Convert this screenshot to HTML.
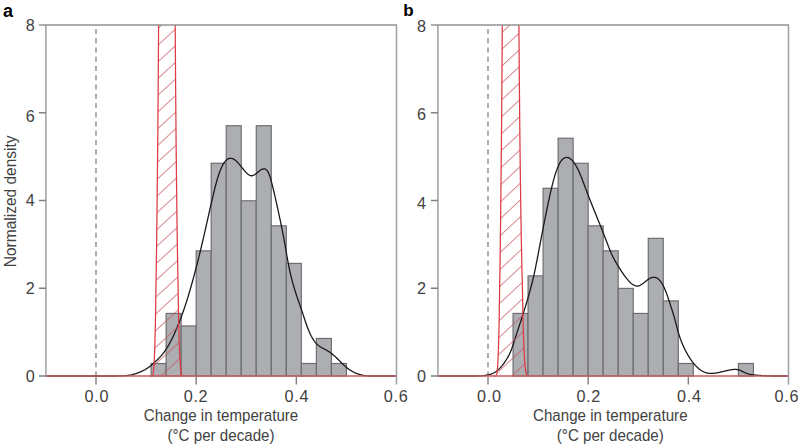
<!DOCTYPE html>
<html><head><meta charset="utf-8"><style>
html,body{margin:0;padding:0;background:#fff;}
body{width:800px;height:447px;overflow:hidden;}
svg{display:block;}
text{font-family:"Liberation Sans",sans-serif;}
.tl{font-size:16.2px;fill:#424242;}
.al{font-size:17px;fill:#424242;}
.xt{letter-spacing:0.7px;}
.pl{font-size:18px;font-weight:bold;fill:#000;}
</style></head><body>
<svg width="800" height="447" viewBox="0 0 800 447">
<defs><pattern id="hatcha" patternUnits="userSpaceOnUse" width="20" height="16.67" patternTransform="skewY(-42.614)"><line x1="-1" y1="7.05" x2="21" y2="7.05" stroke="#c8525a" stroke-width="0.95"/></pattern><pattern id="hatchb" patternUnits="userSpaceOnUse" width="20" height="16.8" patternTransform="skewY(-43.076)"><line x1="-1" y1="14.58" x2="21" y2="14.58" stroke="#c8525a" stroke-width="0.95"/></pattern></defs>
<clipPath id="clipa"><rect x="45.919999999999995" y="25.0" width="350.56" height="354.0"/></clipPath>
<line x1="96.00" y1="29.0" x2="96.00" y2="376.0" stroke="#8e8e8e" stroke-width="1.45" stroke-dasharray="5 4.26"/>
<g fill="#adaeb2" stroke="#6b6c70" stroke-width="1.15"><rect x="151.09" y="363.49" width="15.02" height="12.52"/>
<rect x="166.11" y="313.43" width="15.02" height="62.58"/>
<rect x="181.14" y="325.94" width="15.02" height="50.06"/>
<rect x="196.16" y="250.85" width="15.02" height="125.15"/>
<rect x="211.18" y="163.25" width="15.02" height="212.75"/>
<rect x="226.21" y="125.70" width="15.02" height="250.30"/>
<rect x="241.23" y="200.79" width="15.02" height="175.21"/>
<rect x="256.26" y="125.70" width="15.02" height="250.30"/>
<rect x="271.28" y="225.82" width="15.02" height="150.18"/>
<rect x="286.30" y="263.37" width="15.02" height="112.64"/>
<rect x="301.33" y="363.49" width="15.02" height="12.52"/>
<rect x="316.35" y="338.45" width="15.02" height="37.55"/>
<rect x="331.38" y="363.49" width="15.02" height="12.52"/></g>
<path d="M45.92,376.00 L46.55,376.00 L47.17,376.00 L47.80,376.00 L48.42,376.00 L49.05,376.00 L49.68,376.00 L50.30,376.00 L50.93,376.00 L51.55,376.00 L52.18,376.00 L52.81,376.00 L53.43,376.00 L54.06,376.00 L54.68,376.00 L55.31,376.00 L55.94,376.00 L56.56,376.00 L57.19,376.00 L57.81,376.00 L58.44,376.00 L59.07,376.00 L59.69,376.00 L60.32,376.00 L60.94,376.00 L61.57,376.00 L62.20,376.00 L62.82,376.00 L63.45,376.00 L64.07,376.00 L64.70,376.00 L65.33,376.00 L65.95,376.00 L66.58,376.00 L67.20,376.00 L67.83,376.00 L68.46,376.00 L69.08,376.00 L69.71,376.00 L70.33,376.00 L70.96,376.00 L71.59,376.00 L72.21,376.00 L72.84,376.00 L73.46,376.00 L74.09,376.00 L74.72,376.00 L75.34,376.00 L75.97,376.00 L76.59,376.00 L77.22,376.00 L77.85,376.00 L78.47,376.00 L79.10,376.00 L79.72,376.00 L80.35,376.00 L80.98,376.00 L81.60,376.00 L82.23,376.00 L82.85,376.00 L83.48,376.00 L84.11,376.00 L84.73,376.00 L85.36,376.00 L85.98,376.00 L86.61,376.00 L87.24,376.00 L87.86,376.00 L88.49,376.00 L89.11,376.00 L89.74,376.00 L90.37,376.00 L90.99,376.00 L91.62,376.00 L92.24,376.00 L92.87,376.00 L93.50,376.00 L94.12,376.00 L94.75,376.00 L95.37,376.00 L96.00,376.00 L96.63,376.00 L97.25,376.00 L97.88,376.00 L98.50,376.00 L99.13,376.00 L99.76,376.00 L100.38,376.00 L101.01,376.00 L101.63,376.00 L102.26,376.00 L102.89,376.00 L103.51,376.00 L104.14,376.00 L104.76,376.00 L105.39,376.00 L106.02,376.00 L106.64,376.00 L107.27,376.00 L107.89,376.00 L108.52,376.00 L109.15,376.00 L109.77,376.00 L110.40,376.00 L111.02,376.00 L111.65,376.00 L112.28,376.00 L112.90,376.00 L113.53,375.99 L114.15,375.99 L114.78,375.99 L115.41,375.99 L116.03,375.98 L116.66,375.98 L117.28,375.97 L117.91,375.97 L118.54,375.96 L119.16,375.95 L119.79,375.94 L120.41,375.93 L121.04,375.92 L121.67,375.90 L122.29,375.88 L122.92,375.86 L123.54,375.83 L124.17,375.79 L124.80,375.75 L125.42,375.70 L126.05,375.65 L126.67,375.58 L127.30,375.51 L127.93,375.43 L128.55,375.35 L129.18,375.25 L129.80,375.14 L130.43,375.03 L131.06,374.91 L131.68,374.77 L132.31,374.63 L132.93,374.48 L133.56,374.32 L134.19,374.15 L134.81,373.97 L135.44,373.78 L136.06,373.58 L136.69,373.37 L137.32,373.15 L137.94,372.92 L138.57,372.68 L139.19,372.43 L139.82,372.17 L140.45,371.91 L141.07,371.63 L141.70,371.34 L142.32,371.04 L142.95,370.73 L143.58,370.40 L144.20,370.07 L144.83,369.72 L145.45,369.35 L146.08,368.98 L146.71,368.58 L147.33,368.18 L147.96,367.76 L148.58,367.32 L149.21,366.87 L149.84,366.40 L150.46,365.92 L151.09,365.42 L151.71,364.90 L152.34,364.37 L152.97,363.83 L153.59,363.28 L154.22,362.71 L154.84,362.14 L155.47,361.57 L156.10,360.99 L156.72,360.40 L157.35,359.80 L157.97,359.19 L158.60,358.56 L159.23,357.92 L159.85,357.25 L160.48,356.57 L161.10,355.86 L161.73,355.13 L162.36,354.37 L162.98,353.58 L163.61,352.76 L164.23,351.92 L164.86,351.04 L165.49,350.14 L166.11,349.20 L166.74,348.23 L167.36,347.23 L167.99,346.20 L168.62,345.14 L169.24,344.04 L169.87,342.91 L170.49,341.74 L171.12,340.55 L171.75,339.32 L172.37,338.05 L173.00,336.75 L173.62,335.43 L174.25,334.07 L174.88,332.68 L175.50,331.26 L176.13,329.81 L176.75,328.34 L177.38,326.84 L178.01,325.31 L178.63,323.76 L179.26,322.18 L179.88,320.57 L180.51,318.94 L181.14,317.27 L181.76,315.57 L182.39,313.84 L183.01,312.08 L183.64,310.28 L184.27,308.46 L184.89,306.60 L185.52,304.71 L186.14,302.79 L186.77,300.83 L187.40,298.84 L188.02,296.82 L188.65,294.77 L189.27,292.68 L189.90,290.56 L190.53,288.40 L191.15,286.22 L191.78,284.00 L192.40,281.76 L193.03,279.48 L193.66,277.18 L194.28,274.84 L194.91,272.49 L195.53,270.10 L196.16,267.69 L196.79,265.26 L197.41,262.80 L198.04,260.32 L198.66,257.82 L199.29,255.29 L199.92,252.74 L200.54,250.16 L201.17,247.55 L201.79,244.92 L202.42,242.26 L203.05,239.59 L203.67,236.89 L204.30,234.17 L204.92,231.44 L205.55,228.69 L206.18,225.92 L206.80,223.15 L207.43,220.36 L208.05,217.58 L208.68,214.79 L209.31,212.01 L209.93,209.23 L210.56,206.47 L211.18,203.72 L211.81,201.00 L212.44,198.30 L213.06,195.63 L213.69,193.01 L214.31,190.45 L214.94,187.94 L215.57,185.51 L216.19,183.17 L216.82,180.91 L217.44,178.76 L218.07,176.71 L218.70,174.77 L219.32,172.95 L219.95,171.23 L220.57,169.63 L221.20,168.14 L221.83,166.76 L222.45,165.50 L223.08,164.34 L223.70,163.30 L224.33,162.37 L224.96,161.55 L225.58,160.82 L226.21,160.20 L226.83,159.67 L227.46,159.23 L228.09,158.88 L228.71,158.62 L229.34,158.43 L229.96,158.32 L230.59,158.29 L231.22,158.33 L231.84,158.44 L232.47,158.61 L233.09,158.85 L233.72,159.16 L234.35,159.52 L234.97,159.94 L235.60,160.42 L236.22,160.96 L236.85,161.55 L237.48,162.18 L238.10,162.85 L238.73,163.56 L239.35,164.30 L239.98,165.06 L240.61,165.84 L241.23,166.63 L241.86,167.43 L242.48,168.22 L243.11,169.02 L243.74,169.79 L244.36,170.56 L244.99,171.29 L245.61,171.99 L246.24,172.66 L246.87,173.28 L247.49,173.84 L248.12,174.35 L248.74,174.79 L249.37,175.15 L250.00,175.43 L250.62,175.63 L251.25,175.73 L251.87,175.73 L252.50,175.63 L253.13,175.44 L253.75,175.16 L254.38,174.81 L255.00,174.41 L255.63,173.96 L256.26,173.47 L256.88,172.96 L257.51,172.43 L258.13,171.91 L258.76,171.39 L259.39,170.89 L260.01,170.42 L260.64,169.99 L261.26,169.61 L261.89,169.30 L262.52,169.05 L263.14,168.88 L263.77,168.81 L264.39,168.83 L265.02,168.98 L265.65,169.26 L266.27,169.70 L266.90,170.32 L267.52,171.14 L268.15,172.19 L268.78,173.47 L269.40,175.02 L270.03,176.84 L270.65,178.91 L271.28,181.18 L271.91,183.58 L272.53,186.07 L273.16,188.62 L273.78,191.23 L274.41,193.88 L275.04,196.58 L275.66,199.33 L276.29,202.12 L276.91,204.95 L277.54,207.82 L278.17,210.71 L278.79,213.62 L279.42,216.54 L280.04,219.49 L280.67,222.47 L281.30,225.50 L281.92,228.58 L282.55,231.74 L283.17,234.98 L283.80,238.30 L284.43,241.70 L285.05,245.18 L285.68,248.74 L286.30,252.37 L286.93,256.01 L287.56,259.57 L288.18,262.98 L288.81,266.20 L289.43,269.25 L290.06,272.14 L290.69,274.88 L291.31,277.48 L291.94,279.95 L292.56,282.31 L293.19,284.56 L293.82,286.73 L294.44,288.81 L295.07,290.83 L295.69,292.79 L296.32,294.70 L296.95,296.58 L297.57,298.42 L298.20,300.24 L298.82,302.05 L299.45,303.86 L300.08,305.66 L300.70,307.48 L301.33,309.30 L301.95,311.14 L302.58,313.00 L303.21,314.88 L303.83,316.78 L304.46,318.69 L305.08,320.58 L305.71,322.45 L306.34,324.27 L306.96,326.03 L307.59,327.71 L308.21,329.31 L308.84,330.84 L309.47,332.29 L310.09,333.66 L310.72,334.96 L311.34,336.19 L311.97,337.35 L312.60,338.43 L313.22,339.46 L313.85,340.41 L314.47,341.30 L315.10,342.13 L315.73,342.89 L316.35,343.60 L316.98,344.24 L317.60,344.83 L318.23,345.36 L318.86,345.85 L319.48,346.30 L320.11,346.71 L320.73,347.10 L321.36,347.46 L321.99,347.80 L322.61,348.14 L323.24,348.47 L323.86,348.80 L324.49,349.13 L325.12,349.46 L325.74,349.80 L326.37,350.15 L326.99,350.51 L327.62,350.87 L328.25,351.25 L328.87,351.65 L329.50,352.06 L330.12,352.48 L330.75,352.93 L331.38,353.39 L332.00,353.87 L332.63,354.37 L333.25,354.89 L333.88,355.42 L334.51,355.97 L335.13,356.53 L335.76,357.11 L336.38,357.70 L337.01,358.30 L337.64,358.91 L338.26,359.53 L338.89,360.16 L339.51,360.80 L340.14,361.43 L340.77,362.07 L341.39,362.70 L342.02,363.33 L342.64,363.94 L343.27,364.55 L343.90,365.14 L344.52,365.72 L345.15,366.28 L345.77,366.83 L346.40,367.36 L347.03,367.87 L347.65,368.37 L348.28,368.84 L348.90,369.30 L349.53,369.73 L350.16,370.15 L350.78,370.55 L351.41,370.92 L352.03,371.28 L352.66,371.63 L353.29,371.95 L353.91,372.26 L354.54,372.55 L355.16,372.83 L355.79,373.10 L356.42,373.35 L357.04,373.59 L357.67,373.82 L358.29,374.03 L358.92,374.24 L359.55,374.43 L360.17,374.61 L360.80,374.78 L361.42,374.94 L362.05,375.09 L362.68,375.22 L363.30,375.34 L363.93,375.46 L364.55,375.56 L365.18,375.65 L365.81,375.72 L366.43,375.79 L367.06,375.84 L367.68,375.89 L368.31,375.92 L368.94,375.95 L369.56,375.98 L370.19,375.99 L370.81,376.00 L371.44,376.00 L372.07,376.00 L372.69,376.00 L373.32,376.00 L373.94,376.00 L374.57,376.00 L375.20,376.00 L375.82,376.00 L376.45,376.00 L377.07,376.00 L377.70,376.00 L378.33,376.00 L378.95,376.00 L379.58,376.00 L380.20,376.00 L380.83,376.00 L381.46,376.00 L382.08,375.99 L382.71,375.99 L383.33,375.99 L383.96,375.99 L384.59,375.99 L385.21,375.99 L385.84,375.99 L386.46,375.99 L387.09,375.99 L387.72,375.99 L388.34,375.99 L388.97,375.99 L389.59,375.99 L390.22,376.00 L390.85,376.00 L391.47,376.00 L392.10,376.00 L392.72,376.00 L393.35,376.00 L393.98,376.00 L394.60,376.00 L395.23,376.00 L395.85,376.00 L396.48,376.00" fill="none" stroke="#1a1a1a" stroke-width="1.3" clip-path="url(#clipa)"/>
<g clip-path="url(#clipa)"><path d="M149.80,376.00 L152.00,375.82 L152.03,375.81 L152.05,375.80 L152.08,375.79 L152.11,375.77 L152.13,375.75 L152.16,375.74 L152.19,375.72 L152.21,375.70 L152.24,375.68 L152.27,375.66 L152.29,375.63 L152.32,375.61 L152.35,375.58 L152.37,375.55 L152.40,375.52 L152.43,375.49 L152.45,375.45 L152.48,375.41 L152.51,375.37 L152.53,375.33 L152.56,375.28 L152.59,375.23 L152.61,375.18 L152.64,375.12 L152.67,375.06 L152.69,374.99 L152.72,374.92 L152.75,374.85 L152.77,374.77 L152.80,374.68 L152.84,374.59 L152.87,374.49 L152.90,374.38 L152.94,374.27 L152.97,374.15 L153.00,374.02 L153.04,373.88 L153.07,373.74 L153.10,373.58 L153.14,373.41 L153.17,373.23 L153.20,373.04 L153.24,372.83 L153.27,372.61 L153.30,372.38 L153.34,372.12 L153.37,371.85 L153.40,371.57 L153.44,371.26 L153.47,370.93 L153.50,370.57 L153.54,370.20 L153.57,369.79 L153.61,369.36 L153.66,368.90 L153.71,368.40 L153.76,367.88 L153.81,367.31 L153.86,366.71 L153.91,366.06 L153.96,365.37 L154.01,364.63 L154.06,363.84 L154.11,362.99 L154.16,362.08 L154.21,361.11 L154.26,360.08 L154.31,358.97 L154.36,357.79 L154.41,356.52 L154.46,355.16 L154.52,353.71 L154.58,352.16 L154.65,350.50 L154.72,348.73 L154.79,346.83 L154.86,344.80 L154.92,342.63 L154.99,340.30 L155.06,337.82 L155.13,335.16 L155.20,332.32 L155.26,329.28 L155.33,326.03 L155.40,322.55 L155.47,318.83 L155.54,314.85 L155.60,310.60 L155.67,306.05 L155.74,301.18 L155.81,295.97 L155.87,290.40 L155.97,284.44 L156.09,278.07 L156.21,271.26 L156.32,263.97 L156.44,256.17 L156.56,247.83 L156.67,238.91 L156.79,229.37 L156.91,219.16 L157.02,208.25 L157.15,196.57 L157.29,184.09 L157.44,170.73 L157.58,156.44 L157.73,141.16 L157.88,124.82 L158.02,107.34 L158.17,88.64 L158.31,68.64 L158.46,47.25 L158.60,24.37 L158.75,-0.10 L158.90,-26.27 L159.05,-54.27 L159.20,-84.21 L159.35,-116.24 L159.50,-150.50 L174.30,-150.50 L174.45,-116.24 L174.60,-84.21 L174.75,-54.27 L174.90,-26.27 L175.05,-0.10 L175.20,24.37 L175.35,47.25 L175.50,68.64 L175.65,88.64 L175.80,107.34 L175.95,124.82 L176.10,141.16 L176.26,156.44 L176.41,170.73 L176.56,184.09 L176.71,196.57 L176.85,208.25 L176.99,219.16 L177.12,229.37 L177.26,238.91 L177.39,247.83 L177.53,256.17 L177.66,263.97 L177.79,271.26 L177.93,278.07 L178.06,284.44 L178.18,290.40 L178.25,295.97 L178.33,301.18 L178.41,306.05 L178.48,310.60 L178.56,314.85 L178.63,318.83 L178.71,322.55 L178.78,326.03 L178.86,329.28 L178.94,332.32 L179.01,335.16 L179.09,337.82 L179.16,340.30 L179.24,342.63 L179.31,344.80 L179.39,346.83 L179.47,348.73 L179.54,350.50 L179.62,352.16 L179.69,353.71 L179.76,355.16 L179.81,356.52 L179.87,357.79 L179.93,358.97 L179.99,360.08 L180.05,361.11 L180.11,362.08 L180.17,362.99 L180.23,363.84 L180.29,364.63 L180.35,365.37 L180.41,366.06 L180.47,366.71 L180.53,367.31 L180.58,367.88 L180.64,368.40 L180.70,368.90 L180.76,369.36 L180.81,369.79 L180.85,370.20 L180.89,370.57 L180.94,370.93 L180.98,371.26 L181.02,371.57 L181.07,371.85 L181.11,372.12 L181.15,372.38 L181.19,372.61 L181.24,372.83 L181.28,373.04 L181.32,373.23 L181.37,373.41 L181.41,373.58 L181.45,373.74 L181.50,373.88 L181.54,374.02 L181.58,374.15 L181.63,374.27 L181.67,374.38 L181.71,374.49 L181.75,374.59 L181.80,374.68 L181.83,374.77 L181.87,374.85 L181.90,374.92 L181.93,374.99 L181.97,375.06 L182.00,375.12 L182.03,375.18 L182.07,375.23 L182.10,375.28 L182.13,375.33 L182.17,375.37 L182.20,375.41 L182.23,375.45 L182.27,375.49 L182.30,375.52 L182.33,375.55 L182.37,375.58 L182.40,375.61 L182.43,375.63 L182.47,375.66 L182.50,375.68 L182.53,375.70 L182.57,375.72 L182.60,375.74 L182.63,375.75 L182.67,375.77 L182.70,375.79 L182.73,375.80 L182.77,375.81 L182.80,375.82 L185.00,376.00 Z" fill="url(#hatcha)" stroke="none"/>
<path d="M149.80,376.00 L152.00,375.82 L152.03,375.81 L152.05,375.80 L152.08,375.79 L152.11,375.77 L152.13,375.75 L152.16,375.74 L152.19,375.72 L152.21,375.70 L152.24,375.68 L152.27,375.66 L152.29,375.63 L152.32,375.61 L152.35,375.58 L152.37,375.55 L152.40,375.52 L152.43,375.49 L152.45,375.45 L152.48,375.41 L152.51,375.37 L152.53,375.33 L152.56,375.28 L152.59,375.23 L152.61,375.18 L152.64,375.12 L152.67,375.06 L152.69,374.99 L152.72,374.92 L152.75,374.85 L152.77,374.77 L152.80,374.68 L152.84,374.59 L152.87,374.49 L152.90,374.38 L152.94,374.27 L152.97,374.15 L153.00,374.02 L153.04,373.88 L153.07,373.74 L153.10,373.58 L153.14,373.41 L153.17,373.23 L153.20,373.04 L153.24,372.83 L153.27,372.61 L153.30,372.38 L153.34,372.12 L153.37,371.85 L153.40,371.57 L153.44,371.26 L153.47,370.93 L153.50,370.57 L153.54,370.20 L153.57,369.79 L153.61,369.36 L153.66,368.90 L153.71,368.40 L153.76,367.88 L153.81,367.31 L153.86,366.71 L153.91,366.06 L153.96,365.37 L154.01,364.63 L154.06,363.84 L154.11,362.99 L154.16,362.08 L154.21,361.11 L154.26,360.08 L154.31,358.97 L154.36,357.79 L154.41,356.52 L154.46,355.16 L154.52,353.71 L154.58,352.16 L154.65,350.50 L154.72,348.73 L154.79,346.83 L154.86,344.80 L154.92,342.63 L154.99,340.30 L155.06,337.82 L155.13,335.16 L155.20,332.32 L155.26,329.28 L155.33,326.03 L155.40,322.55 L155.47,318.83 L155.54,314.85 L155.60,310.60 L155.67,306.05 L155.74,301.18 L155.81,295.97 L155.87,290.40 L155.97,284.44 L156.09,278.07 L156.21,271.26 L156.32,263.97 L156.44,256.17 L156.56,247.83 L156.67,238.91 L156.79,229.37 L156.91,219.16 L157.02,208.25 L157.15,196.57 L157.29,184.09 L157.44,170.73 L157.58,156.44 L157.73,141.16 L157.88,124.82 L158.02,107.34 L158.17,88.64 L158.31,68.64 L158.46,47.25 L158.60,24.37 L158.75,-0.10 L158.90,-26.27 L159.05,-54.27 L159.20,-84.21 L159.35,-116.24 L159.50,-150.50 L174.30,-150.50 L174.45,-116.24 L174.60,-84.21 L174.75,-54.27 L174.90,-26.27 L175.05,-0.10 L175.20,24.37 L175.35,47.25 L175.50,68.64 L175.65,88.64 L175.80,107.34 L175.95,124.82 L176.10,141.16 L176.26,156.44 L176.41,170.73 L176.56,184.09 L176.71,196.57 L176.85,208.25 L176.99,219.16 L177.12,229.37 L177.26,238.91 L177.39,247.83 L177.53,256.17 L177.66,263.97 L177.79,271.26 L177.93,278.07 L178.06,284.44 L178.18,290.40 L178.25,295.97 L178.33,301.18 L178.41,306.05 L178.48,310.60 L178.56,314.85 L178.63,318.83 L178.71,322.55 L178.78,326.03 L178.86,329.28 L178.94,332.32 L179.01,335.16 L179.09,337.82 L179.16,340.30 L179.24,342.63 L179.31,344.80 L179.39,346.83 L179.47,348.73 L179.54,350.50 L179.62,352.16 L179.69,353.71 L179.76,355.16 L179.81,356.52 L179.87,357.79 L179.93,358.97 L179.99,360.08 L180.05,361.11 L180.11,362.08 L180.17,362.99 L180.23,363.84 L180.29,364.63 L180.35,365.37 L180.41,366.06 L180.47,366.71 L180.53,367.31 L180.58,367.88 L180.64,368.40 L180.70,368.90 L180.76,369.36 L180.81,369.79 L180.85,370.20 L180.89,370.57 L180.94,370.93 L180.98,371.26 L181.02,371.57 L181.07,371.85 L181.11,372.12 L181.15,372.38 L181.19,372.61 L181.24,372.83 L181.28,373.04 L181.32,373.23 L181.37,373.41 L181.41,373.58 L181.45,373.74 L181.50,373.88 L181.54,374.02 L181.58,374.15 L181.63,374.27 L181.67,374.38 L181.71,374.49 L181.75,374.59 L181.80,374.68 L181.83,374.77 L181.87,374.85 L181.90,374.92 L181.93,374.99 L181.97,375.06 L182.00,375.12 L182.03,375.18 L182.07,375.23 L182.10,375.28 L182.13,375.33 L182.17,375.37 L182.20,375.41 L182.23,375.45 L182.27,375.49 L182.30,375.52 L182.33,375.55 L182.37,375.58 L182.40,375.61 L182.43,375.63 L182.47,375.66 L182.50,375.68 L182.53,375.70 L182.57,375.72 L182.60,375.74 L182.63,375.75 L182.67,375.77 L182.70,375.79 L182.73,375.80 L182.77,375.81 L182.80,375.82 L185.00,376.00" fill="none" stroke="#dc3a44" stroke-width="1.25"/></g>
<line x1="45.92" y1="376.0" x2="396.48" y2="376.0" stroke="#c85a64" stroke-width="1.45"/>
<path d="M396.48,25.0 V384.5 M45.92,25.0 V376.9" fill="none" stroke="#9c9c9c" stroke-width="1.45"/>
<path d="M38.92,25.0 H397.18" fill="none" stroke="#929292" stroke-width="1.5"/>
<path d="M38.92,376.00 H45.92 M38.92,288.25 H45.92 M38.92,200.50 H45.92 M38.92,112.75 H45.92 M96.00,376.9 V384.5 M196.16,376.9 V384.5 M296.32,376.9 V384.5" fill="none" stroke="#808080" stroke-width="1.4"/>
<text x="34.72" y="382.20" text-anchor="end" class="tl">0</text>
<text x="34.72" y="294.45" text-anchor="end" class="tl">2</text>
<text x="34.72" y="205.90" text-anchor="end" class="tl">4</text>
<text x="34.72" y="121.55" text-anchor="end" class="tl">6</text>
<text x="34.72" y="31.20" text-anchor="end" class="tl">8</text>
<text x="96.80" y="401.8" text-anchor="middle" class="tl xt">0.0</text>
<text x="196.00" y="401.8" text-anchor="middle" class="tl xt">0.2</text>
<text x="296.80" y="401.8" text-anchor="middle" class="tl xt">0.4</text>
<text x="396.10" y="401.8" text-anchor="middle" class="tl xt">0.6</text>
<text x="221.00" y="420.8" text-anchor="middle" class="al" textLength="154.5" lengthAdjust="spacingAndGlyphs">Change in temperature</text>
<text x="221.00" y="440.6" text-anchor="middle" class="al" textLength="107" lengthAdjust="spacingAndGlyphs">(°C per decade)</text>
<clipPath id="clipb"><rect x="437.92" y="25.0" width="350.56" height="354.0"/></clipPath>
<line x1="488.00" y1="29.0" x2="488.00" y2="376.0" stroke="#8e8e8e" stroke-width="1.45" stroke-dasharray="5 4.26"/>
<g fill="#adaeb2" stroke="#6b6c70" stroke-width="1.15"><rect x="513.04" y="313.43" width="15.02" height="62.58"/>
<rect x="528.06" y="275.88" width="15.02" height="100.12"/>
<rect x="543.09" y="188.27" width="15.02" height="187.73"/>
<rect x="558.11" y="138.21" width="15.02" height="237.79"/>
<rect x="573.14" y="163.25" width="15.02" height="212.75"/>
<rect x="588.16" y="225.82" width="15.02" height="150.18"/>
<rect x="603.18" y="250.85" width="15.02" height="125.15"/>
<rect x="618.21" y="288.39" width="15.02" height="87.61"/>
<rect x="633.23" y="313.43" width="15.02" height="62.58"/>
<rect x="648.26" y="238.33" width="15.02" height="137.67"/>
<rect x="663.28" y="300.91" width="15.02" height="75.09"/>
<rect x="678.30" y="363.49" width="15.02" height="12.52"/>
<rect x="738.40" y="363.49" width="15.02" height="12.52"/></g>
<path d="M437.92,376.00 L438.55,376.00 L439.17,376.00 L439.80,376.00 L440.42,376.00 L441.05,376.00 L441.68,376.00 L442.30,376.00 L442.93,376.00 L443.55,376.00 L444.18,376.00 L444.81,376.00 L445.43,376.00 L446.06,376.00 L446.68,376.00 L447.31,376.00 L447.94,376.00 L448.56,376.00 L449.19,376.00 L449.81,376.00 L450.44,376.00 L451.07,376.00 L451.69,376.00 L452.32,376.00 L452.94,376.00 L453.57,376.00 L454.20,376.00 L454.82,376.00 L455.45,376.00 L456.07,376.00 L456.70,376.00 L457.33,376.00 L457.95,376.00 L458.58,376.00 L459.20,376.00 L459.83,376.00 L460.46,376.00 L461.08,376.00 L461.71,376.00 L462.33,376.00 L462.96,376.00 L463.59,376.00 L464.21,376.00 L464.84,376.00 L465.46,376.00 L466.09,376.00 L466.72,376.00 L467.34,376.00 L467.97,376.00 L468.59,376.00 L469.22,376.00 L469.85,376.00 L470.47,376.00 L471.10,376.00 L471.72,376.00 L472.35,376.00 L472.98,376.00 L473.60,376.00 L474.23,376.00 L474.85,376.00 L475.48,376.00 L476.11,376.00 L476.73,375.99 L477.36,375.98 L477.98,375.97 L478.61,375.95 L479.24,375.93 L479.86,375.90 L480.49,375.86 L481.11,375.82 L481.74,375.78 L482.37,375.72 L482.99,375.66 L483.62,375.60 L484.24,375.53 L484.87,375.45 L485.50,375.36 L486.12,375.26 L486.75,375.16 L487.37,375.05 L488.00,374.92 L488.63,374.78 L489.25,374.62 L489.88,374.45 L490.50,374.26 L491.13,374.05 L491.76,373.81 L492.38,373.56 L493.01,373.27 L493.63,372.96 L494.26,372.62 L494.89,372.25 L495.51,371.85 L496.14,371.42 L496.76,370.95 L497.39,370.45 L498.02,369.92 L498.64,369.36 L499.27,368.77 L499.89,368.14 L500.52,367.48 L501.15,366.79 L501.77,366.06 L502.40,365.30 L503.02,364.51 L503.65,363.68 L504.28,362.82 L504.90,361.92 L505.53,360.98 L506.15,360.00 L506.78,358.99 L507.41,357.93 L508.03,356.83 L508.66,355.66 L509.28,354.43 L509.91,353.11 L510.54,351.70 L511.16,350.18 L511.79,348.55 L512.41,346.80 L513.04,344.94 L513.67,343.02 L514.29,341.06 L514.92,339.11 L515.54,337.17 L516.17,335.24 L516.80,333.33 L517.42,331.42 L518.05,329.52 L518.67,327.62 L519.30,325.72 L519.93,323.81 L520.55,321.90 L521.18,319.98 L521.80,318.05 L522.43,316.11 L523.06,314.15 L523.68,312.16 L524.31,310.16 L524.93,308.14 L525.56,306.09 L526.19,304.03 L526.81,301.94 L527.44,299.83 L528.06,297.70 L528.69,295.53 L529.32,293.33 L529.94,291.08 L530.57,288.78 L531.19,286.41 L531.82,283.97 L532.45,281.44 L533.07,278.83 L533.70,276.12 L534.32,273.30 L534.95,270.37 L535.58,267.34 L536.20,264.23 L536.83,261.04 L537.45,257.81 L538.08,254.53 L538.71,251.24 L539.33,247.93 L539.96,244.63 L540.58,241.34 L541.21,238.07 L541.84,234.81 L542.46,231.57 L543.09,228.36 L543.71,225.17 L544.34,222.01 L544.97,218.88 L545.59,215.77 L546.22,212.70 L546.84,209.65 L547.47,206.64 L548.10,203.65 L548.72,200.71 L549.35,197.81 L549.97,194.97 L550.60,192.19 L551.23,189.48 L551.85,186.86 L552.48,184.32 L553.10,181.89 L553.73,179.55 L554.36,177.33 L554.98,175.23 L555.61,173.25 L556.23,171.39 L556.86,169.65 L557.49,168.03 L558.11,166.53 L558.74,165.15 L559.36,163.89 L559.99,162.75 L560.62,161.73 L561.24,160.83 L561.87,160.05 L562.49,159.38 L563.12,158.82 L563.75,158.36 L564.37,158.00 L565.00,157.74 L565.62,157.56 L566.25,157.47 L566.88,157.46 L567.50,157.53 L568.13,157.67 L568.75,157.90 L569.38,158.19 L570.01,158.57 L570.63,159.01 L571.26,159.53 L571.88,160.12 L572.51,160.78 L573.14,161.51 L573.76,162.31 L574.39,163.18 L575.01,164.12 L575.64,165.12 L576.27,166.19 L576.89,167.33 L577.52,168.52 L578.14,169.78 L578.77,171.10 L579.40,172.48 L580.02,173.92 L580.65,175.42 L581.27,176.98 L581.90,178.58 L582.53,180.23 L583.15,181.90 L583.78,183.59 L584.40,185.28 L585.03,186.97 L585.66,188.64 L586.28,190.30 L586.91,191.94 L587.53,193.58 L588.16,195.19 L588.79,196.80 L589.41,198.40 L590.04,199.99 L590.66,201.58 L591.29,203.15 L591.92,204.72 L592.54,206.29 L593.17,207.85 L593.79,209.40 L594.42,210.95 L595.05,212.50 L595.67,214.05 L596.30,215.60 L596.92,217.14 L597.55,218.68 L598.18,220.23 L598.80,221.78 L599.43,223.33 L600.05,224.88 L600.68,226.43 L601.31,228.00 L601.93,229.56 L602.56,231.14 L603.18,232.72 L603.81,234.31 L604.44,235.91 L605.06,237.52 L605.69,239.14 L606.31,240.78 L606.94,242.42 L607.57,244.08 L608.19,245.73 L608.82,247.36 L609.44,248.96 L610.07,250.51 L610.70,252.00 L611.32,253.43 L611.95,254.79 L612.57,256.09 L613.20,257.34 L613.83,258.55 L614.45,259.71 L615.08,260.84 L615.70,261.94 L616.33,263.01 L616.96,264.06 L617.58,265.10 L618.21,266.13 L618.83,267.15 L619.46,268.15 L620.09,269.14 L620.71,270.12 L621.34,271.08 L621.96,272.03 L622.59,272.96 L623.22,273.87 L623.84,274.76 L624.47,275.63 L625.09,276.48 L625.72,277.31 L626.35,278.11 L626.97,278.89 L627.60,279.64 L628.22,280.35 L628.85,281.04 L629.48,281.69 L630.10,282.30 L630.73,282.88 L631.35,283.42 L631.98,283.91 L632.61,284.37 L633.23,284.77 L633.86,285.12 L634.48,285.42 L635.11,285.67 L635.74,285.85 L636.36,285.98 L636.99,286.03 L637.61,286.02 L638.24,285.93 L638.87,285.77 L639.49,285.55 L640.12,285.26 L640.74,284.92 L641.37,284.54 L642.00,284.12 L642.62,283.66 L643.25,283.19 L643.87,282.69 L644.50,282.19 L645.13,281.68 L645.75,281.18 L646.38,280.69 L647.00,280.22 L647.63,279.77 L648.26,279.35 L648.88,278.95 L649.51,278.59 L650.13,278.26 L650.76,277.97 L651.39,277.73 L652.01,277.53 L652.64,277.38 L653.26,277.29 L653.89,277.25 L654.52,277.28 L655.14,277.37 L655.77,277.53 L656.39,277.76 L657.02,278.06 L657.65,278.44 L658.27,278.90 L658.90,279.44 L659.52,280.07 L660.15,280.80 L660.78,281.61 L661.40,282.52 L662.03,283.53 L662.65,284.63 L663.28,285.82 L663.91,287.10 L664.53,288.47 L665.16,289.94 L665.78,291.49 L666.41,293.12 L667.04,294.84 L667.66,296.61 L668.29,298.45 L668.91,300.32 L669.54,302.23 L670.17,304.15 L670.79,306.08 L671.42,308.01 L672.04,309.96 L672.67,311.94 L673.30,313.97 L673.92,316.07 L674.55,318.27 L675.17,320.57 L675.80,322.98 L676.43,325.46 L677.05,327.91 L677.68,330.26 L678.30,332.46 L678.93,334.53 L679.56,336.46 L680.18,338.29 L680.81,340.01 L681.43,341.63 L682.06,343.18 L682.69,344.65 L683.31,346.07 L683.94,347.44 L684.56,348.75 L685.19,350.02 L685.82,351.24 L686.44,352.41 L687.07,353.54 L687.69,354.64 L688.32,355.70 L688.95,356.72 L689.57,357.71 L690.20,358.67 L690.82,359.59 L691.45,360.48 L692.08,361.34 L692.70,362.17 L693.33,362.96 L693.95,363.72 L694.58,364.46 L695.21,365.16 L695.83,365.84 L696.46,366.48 L697.08,367.10 L697.71,367.68 L698.34,368.24 L698.96,368.77 L699.59,369.26 L700.21,369.73 L700.84,370.17 L701.47,370.58 L702.09,370.96 L702.72,371.30 L703.34,371.62 L703.97,371.92 L704.60,372.18 L705.22,372.41 L705.85,372.62 L706.47,372.81 L707.10,372.96 L707.73,373.10 L708.35,373.21 L708.98,373.29 L709.60,373.36 L710.23,373.40 L710.86,373.42 L711.48,373.43 L712.11,373.41 L712.73,373.38 L713.36,373.33 L713.99,373.27 L714.61,373.20 L715.24,373.11 L715.86,373.02 L716.49,372.91 L717.12,372.80 L717.74,372.68 L718.37,372.55 L718.99,372.42 L719.62,372.28 L720.25,372.15 L720.87,372.00 L721.50,371.86 L722.12,371.72 L722.75,371.57 L723.38,371.43 L724.00,371.28 L724.63,371.13 L725.25,370.99 L725.88,370.84 L726.51,370.70 L727.13,370.56 L727.76,370.42 L728.38,370.29 L729.01,370.16 L729.64,370.04 L730.26,369.92 L730.89,369.80 L731.51,369.70 L732.14,369.61 L732.77,369.53 L733.39,369.47 L734.02,369.43 L734.64,369.41 L735.27,369.41 L735.90,369.43 L736.52,369.48 L737.15,369.56 L737.77,369.67 L738.40,369.81 L739.03,369.99 L739.65,370.20 L740.28,370.44 L740.90,370.71 L741.53,370.99 L742.16,371.29 L742.78,371.60 L743.41,371.91 L744.03,372.22 L744.66,372.52 L745.29,372.81 L745.91,373.07 L746.54,373.32 L747.16,373.55 L747.79,373.75 L748.42,373.94 L749.04,374.11 L749.67,374.26 L750.29,374.40 L750.92,374.53 L751.55,374.64 L752.17,374.74 L752.80,374.83 L753.42,374.91 L754.05,374.98 L754.68,375.05 L755.30,375.11 L755.93,375.16 L756.55,375.21 L757.18,375.26 L757.81,375.30 L758.43,375.35 L759.06,375.39 L759.68,375.43 L760.31,375.47 L760.94,375.51 L761.56,375.55 L762.19,375.59 L762.81,375.63 L763.44,375.67 L764.07,375.70 L764.69,375.74 L765.32,375.77 L765.94,375.80 L766.57,375.83 L767.20,375.86 L767.82,375.89 L768.45,375.91 L769.07,375.93 L769.70,375.95 L770.33,375.97 L770.95,375.99 L771.58,376.00 L772.20,376.00 L772.83,376.00 L773.46,376.00 L774.08,376.00 L774.71,376.00 L775.33,376.00 L775.96,376.00 L776.59,376.00 L777.21,376.00 L777.84,376.00 L778.46,376.00 L779.09,376.00 L779.72,376.00 L780.34,376.00 L780.97,376.00 L781.59,376.00 L782.22,376.00 L782.85,376.00 L783.47,376.00 L784.10,376.00 L784.72,376.00 L785.35,376.00 L785.98,376.00 L786.60,376.00 L787.23,376.00 L787.85,376.00 L788.48,376.00" fill="none" stroke="#1a1a1a" stroke-width="1.3" clip-path="url(#clipb)"/>
<g clip-path="url(#clipb)"><path d="M493.50,376.00 L495.70,375.82 L495.73,375.81 L495.75,375.80 L495.78,375.79 L495.81,375.77 L495.83,375.75 L495.86,375.74 L495.89,375.72 L495.91,375.70 L495.94,375.68 L495.97,375.66 L495.99,375.63 L496.02,375.61 L496.05,375.58 L496.07,375.55 L496.10,375.52 L496.13,375.49 L496.15,375.45 L496.18,375.41 L496.21,375.37 L496.23,375.33 L496.26,375.28 L496.29,375.23 L496.31,375.18 L496.34,375.12 L496.37,375.06 L496.39,374.99 L496.42,374.92 L496.45,374.85 L496.47,374.77 L496.50,374.68 L496.54,374.59 L496.57,374.49 L496.60,374.38 L496.64,374.27 L496.67,374.15 L496.70,374.02 L496.74,373.88 L496.77,373.74 L496.80,373.58 L496.84,373.41 L496.87,373.23 L496.90,373.04 L496.94,372.83 L496.97,372.61 L497.00,372.38 L497.04,372.12 L497.07,371.85 L497.10,371.57 L497.14,371.26 L497.17,370.93 L497.20,370.57 L497.24,370.20 L497.27,369.79 L497.31,369.36 L497.36,368.90 L497.41,368.40 L497.46,367.88 L497.51,367.31 L497.56,366.71 L497.61,366.06 L497.66,365.37 L497.71,364.63 L497.76,363.84 L497.81,362.99 L497.86,362.08 L497.91,361.11 L497.96,360.08 L498.01,358.97 L498.06,357.79 L498.11,356.52 L498.16,355.16 L498.22,353.71 L498.28,352.16 L498.35,350.50 L498.42,348.73 L498.49,346.83 L498.56,344.80 L498.62,342.63 L498.69,340.30 L498.76,337.82 L498.83,335.16 L498.90,332.32 L498.96,329.28 L499.03,326.03 L499.10,322.55 L499.17,318.83 L499.24,314.85 L499.30,310.60 L499.37,306.05 L499.44,301.18 L499.51,295.97 L499.57,290.40 L499.67,284.44 L499.79,278.07 L499.91,271.26 L500.02,263.97 L500.14,256.17 L500.26,247.83 L500.37,238.91 L500.49,229.37 L500.61,219.16 L500.72,208.25 L500.85,196.57 L500.99,184.09 L501.14,170.73 L501.28,156.44 L501.43,141.16 L501.58,124.82 L501.72,107.34 L501.87,88.64 L502.01,68.64 L502.16,47.25 L502.30,24.37 L502.45,-0.10 L502.60,-26.27 L502.75,-54.27 L502.90,-84.21 L503.05,-116.24 L503.20,-150.50 L518.00,-150.50 L518.15,-116.24 L518.30,-84.21 L518.45,-54.27 L518.60,-26.27 L518.75,-0.10 L518.90,24.37 L519.07,47.25 L519.24,68.64 L519.42,88.64 L519.59,107.34 L519.77,124.82 L519.94,141.16 L520.12,156.44 L520.29,170.73 L520.47,184.09 L520.64,196.57 L520.81,208.25 L520.98,219.16 L521.15,229.37 L521.32,238.91 L521.49,247.83 L521.66,256.17 L521.83,263.97 L522.00,271.26 L522.17,278.07 L522.34,284.44 L522.48,290.40 L522.57,295.97 L522.66,301.18 L522.74,306.05 L522.83,310.60 L522.92,314.85 L523.01,318.83 L523.09,322.55 L523.18,326.03 L523.27,329.28 L523.36,332.32 L523.44,335.16 L523.53,337.82 L523.62,340.30 L523.71,342.63 L523.79,344.80 L523.88,346.83 L523.97,348.73 L524.05,350.50 L524.14,352.16 L524.23,353.71 L524.31,355.16 L524.38,356.52 L524.45,357.79 L524.52,358.97 L524.60,360.08 L524.67,361.11 L524.74,362.08 L524.81,362.99 L524.89,363.84 L524.96,364.63 L525.03,365.37 L525.10,366.06 L525.18,366.71 L525.25,367.31 L525.32,367.88 L525.40,368.40 L525.47,368.90 L525.54,369.36 L525.59,369.79 L525.64,370.20 L525.69,370.57 L525.74,370.93 L525.78,371.26 L525.83,371.57 L525.88,371.85 L525.93,372.12 L525.98,372.38 L526.02,372.61 L526.07,372.83 L526.12,373.04 L526.17,373.23 L526.22,373.41 L526.26,373.58 L526.31,373.74 L526.36,373.88 L526.41,374.02 L526.46,374.15 L526.51,374.27 L526.55,374.38 L526.60,374.49 L526.65,374.59 L526.70,374.68 L526.73,374.77 L526.77,374.85 L526.80,374.92 L526.83,374.99 L526.87,375.06 L526.90,375.12 L526.93,375.18 L526.97,375.23 L527.00,375.28 L527.03,375.33 L527.07,375.37 L527.10,375.41 L527.13,375.45 L527.17,375.49 L527.20,375.52 L527.23,375.55 L527.27,375.58 L527.30,375.61 L527.33,375.63 L527.37,375.66 L527.40,375.68 L527.43,375.70 L527.47,375.72 L527.50,375.74 L527.53,375.75 L527.57,375.77 L527.60,375.79 L527.63,375.80 L527.67,375.81 L527.70,375.82 L529.90,376.00 Z" fill="url(#hatchb)" stroke="none"/>
<path d="M493.50,376.00 L495.70,375.82 L495.73,375.81 L495.75,375.80 L495.78,375.79 L495.81,375.77 L495.83,375.75 L495.86,375.74 L495.89,375.72 L495.91,375.70 L495.94,375.68 L495.97,375.66 L495.99,375.63 L496.02,375.61 L496.05,375.58 L496.07,375.55 L496.10,375.52 L496.13,375.49 L496.15,375.45 L496.18,375.41 L496.21,375.37 L496.23,375.33 L496.26,375.28 L496.29,375.23 L496.31,375.18 L496.34,375.12 L496.37,375.06 L496.39,374.99 L496.42,374.92 L496.45,374.85 L496.47,374.77 L496.50,374.68 L496.54,374.59 L496.57,374.49 L496.60,374.38 L496.64,374.27 L496.67,374.15 L496.70,374.02 L496.74,373.88 L496.77,373.74 L496.80,373.58 L496.84,373.41 L496.87,373.23 L496.90,373.04 L496.94,372.83 L496.97,372.61 L497.00,372.38 L497.04,372.12 L497.07,371.85 L497.10,371.57 L497.14,371.26 L497.17,370.93 L497.20,370.57 L497.24,370.20 L497.27,369.79 L497.31,369.36 L497.36,368.90 L497.41,368.40 L497.46,367.88 L497.51,367.31 L497.56,366.71 L497.61,366.06 L497.66,365.37 L497.71,364.63 L497.76,363.84 L497.81,362.99 L497.86,362.08 L497.91,361.11 L497.96,360.08 L498.01,358.97 L498.06,357.79 L498.11,356.52 L498.16,355.16 L498.22,353.71 L498.28,352.16 L498.35,350.50 L498.42,348.73 L498.49,346.83 L498.56,344.80 L498.62,342.63 L498.69,340.30 L498.76,337.82 L498.83,335.16 L498.90,332.32 L498.96,329.28 L499.03,326.03 L499.10,322.55 L499.17,318.83 L499.24,314.85 L499.30,310.60 L499.37,306.05 L499.44,301.18 L499.51,295.97 L499.57,290.40 L499.67,284.44 L499.79,278.07 L499.91,271.26 L500.02,263.97 L500.14,256.17 L500.26,247.83 L500.37,238.91 L500.49,229.37 L500.61,219.16 L500.72,208.25 L500.85,196.57 L500.99,184.09 L501.14,170.73 L501.28,156.44 L501.43,141.16 L501.58,124.82 L501.72,107.34 L501.87,88.64 L502.01,68.64 L502.16,47.25 L502.30,24.37 L502.45,-0.10 L502.60,-26.27 L502.75,-54.27 L502.90,-84.21 L503.05,-116.24 L503.20,-150.50 L518.00,-150.50 L518.15,-116.24 L518.30,-84.21 L518.45,-54.27 L518.60,-26.27 L518.75,-0.10 L518.90,24.37 L519.07,47.25 L519.24,68.64 L519.42,88.64 L519.59,107.34 L519.77,124.82 L519.94,141.16 L520.12,156.44 L520.29,170.73 L520.47,184.09 L520.64,196.57 L520.81,208.25 L520.98,219.16 L521.15,229.37 L521.32,238.91 L521.49,247.83 L521.66,256.17 L521.83,263.97 L522.00,271.26 L522.17,278.07 L522.34,284.44 L522.48,290.40 L522.57,295.97 L522.66,301.18 L522.74,306.05 L522.83,310.60 L522.92,314.85 L523.01,318.83 L523.09,322.55 L523.18,326.03 L523.27,329.28 L523.36,332.32 L523.44,335.16 L523.53,337.82 L523.62,340.30 L523.71,342.63 L523.79,344.80 L523.88,346.83 L523.97,348.73 L524.05,350.50 L524.14,352.16 L524.23,353.71 L524.31,355.16 L524.38,356.52 L524.45,357.79 L524.52,358.97 L524.60,360.08 L524.67,361.11 L524.74,362.08 L524.81,362.99 L524.89,363.84 L524.96,364.63 L525.03,365.37 L525.10,366.06 L525.18,366.71 L525.25,367.31 L525.32,367.88 L525.40,368.40 L525.47,368.90 L525.54,369.36 L525.59,369.79 L525.64,370.20 L525.69,370.57 L525.74,370.93 L525.78,371.26 L525.83,371.57 L525.88,371.85 L525.93,372.12 L525.98,372.38 L526.02,372.61 L526.07,372.83 L526.12,373.04 L526.17,373.23 L526.22,373.41 L526.26,373.58 L526.31,373.74 L526.36,373.88 L526.41,374.02 L526.46,374.15 L526.51,374.27 L526.55,374.38 L526.60,374.49 L526.65,374.59 L526.70,374.68 L526.73,374.77 L526.77,374.85 L526.80,374.92 L526.83,374.99 L526.87,375.06 L526.90,375.12 L526.93,375.18 L526.97,375.23 L527.00,375.28 L527.03,375.33 L527.07,375.37 L527.10,375.41 L527.13,375.45 L527.17,375.49 L527.20,375.52 L527.23,375.55 L527.27,375.58 L527.30,375.61 L527.33,375.63 L527.37,375.66 L527.40,375.68 L527.43,375.70 L527.47,375.72 L527.50,375.74 L527.53,375.75 L527.57,375.77 L527.60,375.79 L527.63,375.80 L527.67,375.81 L527.70,375.82 L529.90,376.00" fill="none" stroke="#dc3a44" stroke-width="1.25"/></g>
<line x1="437.92" y1="376.0" x2="788.48" y2="376.0" stroke="#c85a64" stroke-width="1.45"/>
<path d="M788.48,25.0 V384.5 M437.92,25.0 V376.9" fill="none" stroke="#9c9c9c" stroke-width="1.45"/>
<path d="M430.92,25.0 H789.18" fill="none" stroke="#929292" stroke-width="1.5"/>
<path d="M430.92,376.00 H437.92 M430.92,288.25 H437.92 M430.92,200.50 H437.92 M430.92,112.75 H437.92 M488.00,376.9 V384.5 M588.16,376.9 V384.5 M688.32,376.9 V384.5" fill="none" stroke="#808080" stroke-width="1.4"/>
<text x="426.02" y="381.90" text-anchor="end" class="tl">0</text>
<text x="426.02" y="294.45" text-anchor="end" class="tl">2</text>
<text x="426.02" y="209.00" text-anchor="end" class="tl">4</text>
<text x="426.02" y="119.75" text-anchor="end" class="tl">6</text>
<text x="426.02" y="31.80" text-anchor="end" class="tl">8</text>
<text x="489.30" y="401.8" text-anchor="middle" class="tl xt">0.0</text>
<text x="588.70" y="401.8" text-anchor="middle" class="tl xt">0.2</text>
<text x="689.40" y="401.8" text-anchor="middle" class="tl xt">0.4</text>
<text x="786.80" y="401.8" text-anchor="middle" class="tl xt">0.6</text>
<text x="610.30" y="420.8" text-anchor="middle" class="al" textLength="154.5" lengthAdjust="spacingAndGlyphs">Change in temperature</text>
<text x="610.30" y="440.6" text-anchor="middle" class="al" textLength="107" lengthAdjust="spacingAndGlyphs">(°C per decade)</text>
<text x="15.6" y="201.3" transform="rotate(-90 15.6 201.3)" text-anchor="middle" class="al" textLength="131.8" lengthAdjust="spacingAndGlyphs">Normalized density</text>
<text x="3" y="16.8" class="pl">a</text>
<text x="403.3" y="16.3" class="pl" style="font-size:17px">b</text>
</svg>
</body></html>
